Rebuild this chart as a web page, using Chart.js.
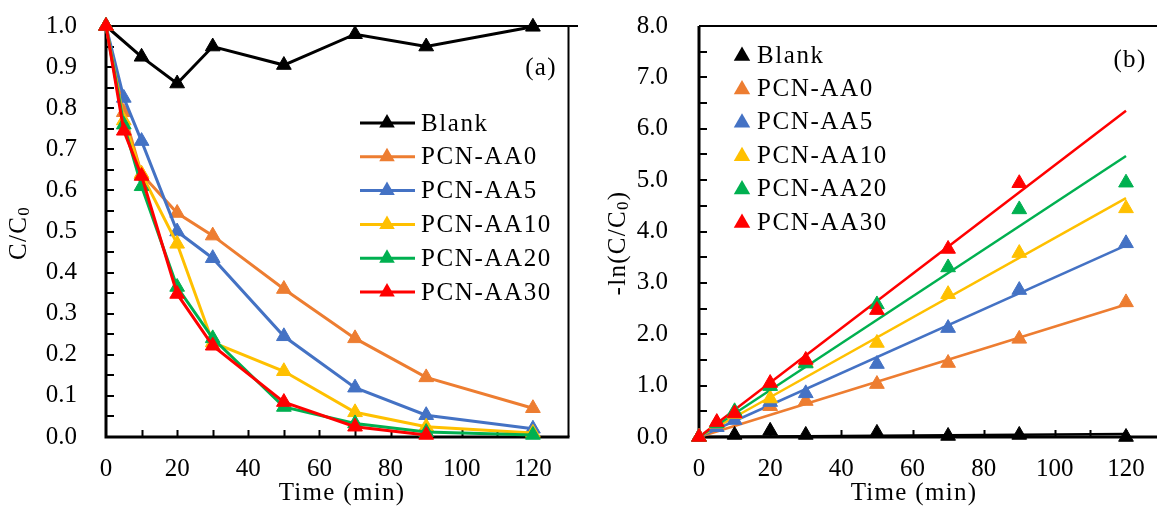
<!DOCTYPE html>
<html>
<head>
<meta charset="utf-8">
<script src="https://cdn.jsdelivr.net/npm/chart.js@4.4.0/dist/chart.umd.min.js"></script>
<style>
  html, body { margin: 0; padding: 0; background: #fff; overflow: hidden; }
  #wrap { position: relative; width: 1157px; height: 511px; overflow: hidden; }
  .box { position: absolute; top: 0; height: 511px; }
</style>
</head>
<body>
<div id="wrap">
  <div class="box" style="left:0;width:578px"><canvas id="chartA" width="578" height="511"></canvas></div>
  <div class="box" style="left:578px;width:600px"><canvas id="chartB" width="600" height="511"></canvas></div>
</div>
<script>
// ---- data (a): C/C0 vs time ----
const timeA = [0, 5, 10, 20, 30, 50, 70, 90, 120];
const timeBlank = [0, 10, 20, 30, 50, 70, 90, 120];
const timeAA30 = [0, 5, 10, 20, 30, 50, 70, 90];
const blankA = [1.0, 0.925, 0.86, 0.95, 0.905, 0.98, 0.95, 0.998];
const aa0A  = [1.0, 0.79, 0.64, 0.545, 0.49, 0.36, 0.24, 0.145, 0.07];
const aa5A  = [1.0, 0.825, 0.72, 0.50, 0.435, 0.245, 0.12, 0.053, 0.02];
const aa10A = [1.0, 0.77, 0.64, 0.47, 0.23, 0.16, 0.06, 0.025, 0.01];
const aa20A = [1.0, 0.76, 0.61, 0.365, 0.24, 0.073, 0.033, 0.012, 0.005];
const aa30A = [1.0, 0.745, 0.635, 0.348, 0.222, 0.085, 0.025, 0.005];

// ---- data (b): -ln(C/C0) vs time ----
const blankB = [0, 0.04, 0.12, 0.04, 0.08, 0.02, 0.04, 0.0];
const aa0B  = [0, 0.24, 0.45, 0.60, 0.70, 1.03, 1.44, 1.91, 2.62];
const aa5B  = [0, 0.19, 0.33, 0.68, 0.85, 1.42, 2.12, 2.86, 3.77];
const aa10B = [0, 0.26, 0.45, 0.75, 1.45, 1.83, 2.78, 3.58, 4.45];
const aa20B = [0, 0.27, 0.50, 0.99, 1.43, 2.58, 3.30, 4.43, 4.95];
const aa30B = [0, 0.29, 0.46, 1.05, 1.50, 2.47, 3.66, 4.94];
// linear fits, value at 0 and 120 min
const fitX = [0, 120];
const fitBlank = [0, 0.06];
const fitAA0  = [0, 2.58];
const fitAA5  = [0, 3.73];
const fitAA10 = [0, 4.65];
const fitAA20 = [0, 5.47];
const fitAA30 = [0, 6.35];

const names = ['Blank', 'PCN-AA0', 'PCN-AA5', 'PCN-AA10', 'PCN-AA20', 'PCN-AA30'];
const colors = ['#000000', '#ED7D31', '#4472C4', '#FFC000', '#00B050', '#FF0000'];

const FONT = '"Liberation Serif", "Times New Roman", serif';
const toXY = (xs, ys) => ys.map((y, i) => ({ x: xs[i], y: y }));

function tri(ctx, x, y, r, color) {
  ctx.beginPath();
  ctx.moveTo(x, y - r);
  ctx.lineTo(x + r * 0.866, y + r * 0.5);
  ctx.lineTo(x - r * 0.866, y + r * 0.5);
  ctx.closePath();
  ctx.fillStyle = color;
  ctx.fill();
}

// axis lines + inside tick marks (drawn under the markers)
function frame(opts) {
  return {
    id: 'frame',
    beforeDatasetsDraw(chart) {
      const { ctx, chartArea: a, scales } = chart;
      ctx.save();
      ctx.strokeStyle = '#000';
      ctx.lineWidth = 2;
      ctx.beginPath();
      scales.x.ticks.forEach(t => {
        const px = Math.round(scales.x.getPixelForValue(t.value)) + 0.5;
        if (t.value <= 0 || t.value >= 130) return;
        ctx.moveTo(px, a.bottom);
        ctx.lineTo(px, a.bottom - 7);
      });
      scales.y.ticks.forEach(t => {
        const py = Math.round(scales.y.getPixelForValue(t.value));
        if (t.value <= 0) return;
        ctx.moveTo(a.left, py);
        ctx.lineTo(a.left + 8, py);
      });
      ctx.stroke();
      // top / right border
      ctx.lineWidth = 2;
      ctx.beginPath();
      ctx.moveTo(a.left, a.top);
      ctx.lineTo(a.right + 20, a.top);
      if (opts.rightBorder) {
        ctx.moveTo(a.right, a.top);
        ctx.lineTo(a.right, a.bottom);
      }
      ctx.stroke();
      // left / bottom axis
      ctx.lineWidth = 3;
      ctx.beginPath();
      ctx.moveTo(a.left, a.top);
      ctx.lineTo(a.left, a.bottom);
      ctx.lineTo(a.right + (opts.rightBorder ? 1 : 20), a.bottom);
      ctx.stroke();
      ctx.restore();
    }
  };
}

// titles, panel label and legend
function texts(opts) {
  return {
    id: 'texts',
    afterDraw(chart) {
      const ctx = chart.ctx;
      ctx.save();
      ctx.fillStyle = '#000';
      ctx.textBaseline = 'middle';
      ctx.letterSpacing = '1.3px';
      // x title
      ctx.font = '25px ' + FONT;
      ctx.textAlign = 'center';
      ctx.fillText('Time (min)', opts.xTitleX, 493);
      // panel label
      ctx.fillText(opts.panel, opts.panelX, opts.panelY);
      // y title with subscript
      ctx.translate(opts.yTitleX, opts.yTitleY);
      ctx.rotate(-Math.PI / 2);
      const big = '25px ' + FONT, small = '17px ' + FONT;
      ctx.font = big;
      const w1 = ctx.measureText(opts.yPre).width;
      const w3 = ctx.measureText(opts.yPost).width;
      ctx.font = small;
      const w2 = ctx.measureText('0').width;
      let x0 = -(w1 + w2 + w3) / 2;
      ctx.textAlign = 'left';
      ctx.font = big;
      ctx.fillText(opts.yPre, x0, 0);
      ctx.font = small;
      ctx.fillText('0', x0 + w1, 6);
      ctx.font = big;
      ctx.fillText(opts.yPost, x0 + w1 + w2, 0);
      ctx.setTransform(1, 0, 0, 1, 0, 0);
      // legend
      ctx.font = '25px ' + FONT;
      ctx.letterSpacing = '1.6px';
      ctx.textAlign = 'left';
      names.forEach((n, i) => {
        const y = opts.legY + i * opts.legStep;
        if (opts.legLine) {
          ctx.strokeStyle = colors[i];
          ctx.lineWidth = 3;
          ctx.beginPath();
          ctx.moveTo(opts.legX, y);
          ctx.lineTo(opts.legX + 55, y);
          ctx.stroke();
          tri(ctx, opts.legX + 27, y, 9, colors[i]);
        } else {
          tri(ctx, opts.legX, y + 1, 9.5, colors[i]);
        }
        ctx.fillStyle = '#000';
        ctx.fillText(n, opts.legTextX, y + 1);
      });
      ctx.restore();
    }
  };
}

function lineSet(label, xs, ys, color, order) {
  return {
    label, data: toXY(xs, ys), borderColor: color, backgroundColor: color,
    borderWidth: 3, pointStyle: 'triangle', pointRadius: 8.5, pointBorderWidth: 1,
    showLine: true, tension: 0, clip: false, order
  };
}
function pointSet(label, xs, ys, color, order) {
  return {
    label, data: toXY(xs, ys), borderColor: color, backgroundColor: color,
    pointStyle: 'triangle', pointRadius: 8.5, pointBorderWidth: 1,
    showLine: false, clip: false, order
  };
}
function fitSet(xs, ys, color, order) {
  return {
    label: 'fit', data: toXY(xs, ys), borderColor: color, backgroundColor: color,
    borderWidth: 2.5, pointRadius: 0, showLine: true, tension: 0, clip: false, order
  };
}

// tick label offsets come from (invisible) tick length so they don't inflate layout padding
function baseOptions(cfg) {
  return {
    responsive: false,
    animation: false,
    events: [],
    layout: { padding: { top: 26, right: cfg.padRight, left: 0, bottom: 0 } },
    plugins: { legend: { display: false }, tooltip: { enabled: false } },
    scales: {
      x: {
        type: 'linear', min: 0, max: 130,
        afterFit: s => { s.height = 74; },
        grid: { display: false, drawTicks: true, tickLength: 15 },
        border: { display: false },
        ticks: {
          stepSize: 10, autoSkip: false, maxRotation: 0, padding: 2,
          color: '#000', font: { family: FONT, size: 25 },
          callback: v => (v % 20 === 0 && v <= 120) ? String(v) : ''
        }
      },
      y: {
        type: 'linear', min: 0, max: cfg.yMax,
        afterFit: s => { s.width = cfg.yWidth; },
        grid: { display: false, drawTicks: true, tickLength: cfg.yPad - 2 },
        border: { display: false },
        ticks: {
          stepSize: cfg.yStep, autoSkip: false, padding: 2,
          color: '#000', font: { family: FONT, size: 25 },
          callback: cfg.yLabel
        }
      }
    }
  };
}

// ---- chart (a) ----
new Chart(document.getElementById('chartA'), {
  type: 'scatter',
  data: {
    datasets: [
      lineSet(names[0], timeBlank, blankA, colors[0], 6),
      lineSet(names[1], timeA, aa0A, colors[1], 5),
      lineSet(names[2], timeA, aa5A, colors[2], 4),
      lineSet(names[3], timeA, aa10A, colors[3], 3),
      lineSet(names[4], timeA, aa20A, colors[4], 2),
      lineSet(names[5], timeAA30, aa30A, colors[5], 1)
    ]
  },
  options: baseOptions({
    padRight: 8, yWidth: 106, yPad: 29, yMax: 1, yStep: 0.05,
    yLabel: v => (Math.round(v * 20) % 2 === 0) ? v.toFixed(1) : ''
  }),
  plugins: [frame({ rightBorder: true }), texts({
    xTitleX: 342, panel: '(a)', panelX: 541, panelY: 68,
    yTitleX: 19, yTitleY: 233, yPre: 'C/C', yPost: '',
    legLine: true, legX: 360, legTextX: 421, legY: 123, legStep: 33.8
  })]
});

// ---- chart (b) ----
new Chart(document.getElementById('chartB'), {
  type: 'scatter',
  data: {
    datasets: [
      fitSet(fitX, fitBlank, colors[0], 16),
      fitSet(fitX, fitAA0, colors[1], 15),
      fitSet(fitX, fitAA5, colors[2], 14),
      fitSet(fitX, fitAA10, colors[3], 13),
      fitSet(fitX, fitAA20, colors[4], 12),
      fitSet(fitX, fitAA30, colors[5], 11),
      pointSet(names[0], timeBlank, blankB, colors[0], 6),
      pointSet(names[1], timeA, aa0B, colors[1], 5),
      pointSet(names[2], timeA, aa5B, colors[2], 4),
      pointSet(names[3], timeA, aa10B, colors[3], 3),
      pointSet(names[4], timeA, aa20B, colors[4], 2),
      pointSet(names[5], timeAA30, aa30B, colors[5], 1)
    ]
  },
  options: baseOptions({
    padRight: 16.4, yWidth: 121, yPad: 31, yMax: 8, yStep: 0.5,
    yLabel: v => Number.isInteger(v) ? v.toFixed(1) : ''
  }),
  plugins: [frame({ rightBorder: false }), texts({
    xTitleX: 336, panel: '(b)', panelX: 552, panelY: 60,
    yTitleX: 40, yTitleY: 243, yPre: '-ln(C/C', yPost: ')',
    legLine: false, legX: 164, legTextX: 179, legY: 55, legStep: 33.4
  })]
});
</script>
</body>
</html>
